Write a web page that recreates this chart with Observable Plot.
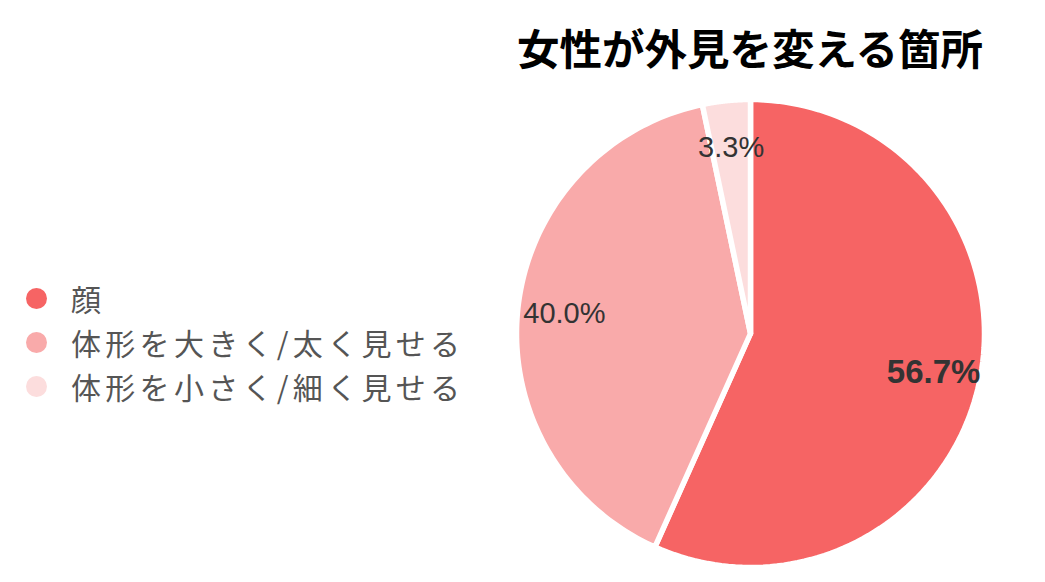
<!DOCTYPE html>
<html>
<head>
<meta charset="utf-8">
<script src="https://cdn.jsdelivr.net/npm/d3@7"></script>
<script src="https://cdn.jsdelivr.net/npm/@observablehq/plot@0.6"></script>
<style>
  html, body { margin: 0; padding: 0; background: #fff; }
  #wrap { position: relative; width: 1045px; height: 582px; overflow: hidden; }
  #title { position: absolute; left: 750px; top: 20px; transform: translateX(-50%); white-space: nowrap;
    font-family: "Noto Sans CJK JP", sans-serif; font-weight: 700; font-size: 42.5px; line-height: 54px; color: #000; }
  #legend { position: absolute; left: 26px; top: 276px; font-family: "Noto Sans CJK JP", sans-serif; font-size: 30px; letter-spacing: 4.3px; line-height: 40px; color: #555; }
  .item { display: flex; align-items: center; height: 44px; white-space: nowrap; }
  .item span { line-height: 40px; }
  .sw { width: 21px; height: 21px; border-radius: 50%; margin-right: 24px; flex: none; }
  #chart { position: absolute; left: 0; top: 0; }
</style>
</head>
<body>
<div id="wrap">
  <div id="chart"></div>
  <div id="title"></div>
  <div id="legend"></div>
</div>
<script>
const title = "女性が外見を変える箇所";
const categories = ["顔", "体形を大きく/太く見せる", "体形を小さく/細く見せる"];
const values = [56.7, 40.0, 3.3];
const colors = ["#F66464", "#F9AAAA", "#FCDDDD"];

document.getElementById("title").textContent = title;
const legend = document.getElementById("legend");
categories.forEach((c, i) => {
  const it = document.createElement("div");
  it.className = "item";
  const sw = document.createElement("span");
  sw.className = "sw";
  sw.style.background = colors[i];
  const tx = document.createElement("span");
  tx.textContent = c;
  it.appendChild(sw); it.appendChild(tx);
  legend.appendChild(it);
});

const data = categories.map((name, i) => ({name, value: values[i]}));
const arcs = d3.pie().sort(null).value(d => d.value)(data);

const poly = [];
arcs.forEach(a => {
  poly.push({name: a.data.name, x: 0, y: 0});
  const n = 120;
  for (let k = 0; k <= n; k++) {
    const t = a.startAngle + (a.endAngle - a.startAngle) * k / n;
    poly.push({name: a.data.name, x: Math.sin(t), y: Math.cos(t)});
  }
});
const labels = arcs.map((a, i) => {
  const m = (a.startAngle + a.endAngle) / 2;
  return {name: a.data.name, value: a.data.value, x: 0.8 * Math.sin(m), y: 0.8 * Math.cos(m), big: i === 0};
});

const cx = 750, cy = 333, R = 234;
const chart = Plot.plot({
  width: 1045,
  height: 582,
  margin: 0,
  x: {domain: [-1, 1], range: [cx - R, cx + R], axis: null},
  y: {domain: [-1, 1], range: [cy + R, cy - R], axis: null},
  color: {domain: categories, range: colors},
  style: {background: "transparent"},
  marks: [
    Plot.line(poly, {x: "x", y: "y", z: "name", fill: "name", stroke: "white", strokeWidth: 5.5, curve: "linear-closed"}),
    Plot.text(labels.filter(d => d.big), {x: "x", y: "y", text: d => d.value.toFixed(1) + "%", fontSize: 33, fontWeight: "bold", fill: "#333", fontFamily: "Liberation Sans, Arial, sans-serif"}),
    Plot.text(labels.filter(d => !d.big), {x: "x", y: "y", text: d => d.value.toFixed(1) + "%", fontSize: 29, fill: "#333", fontFamily: "Liberation Sans, Arial, sans-serif"})
  ]
});
document.getElementById("chart").appendChild(chart);
</script>
</body>
</html>
